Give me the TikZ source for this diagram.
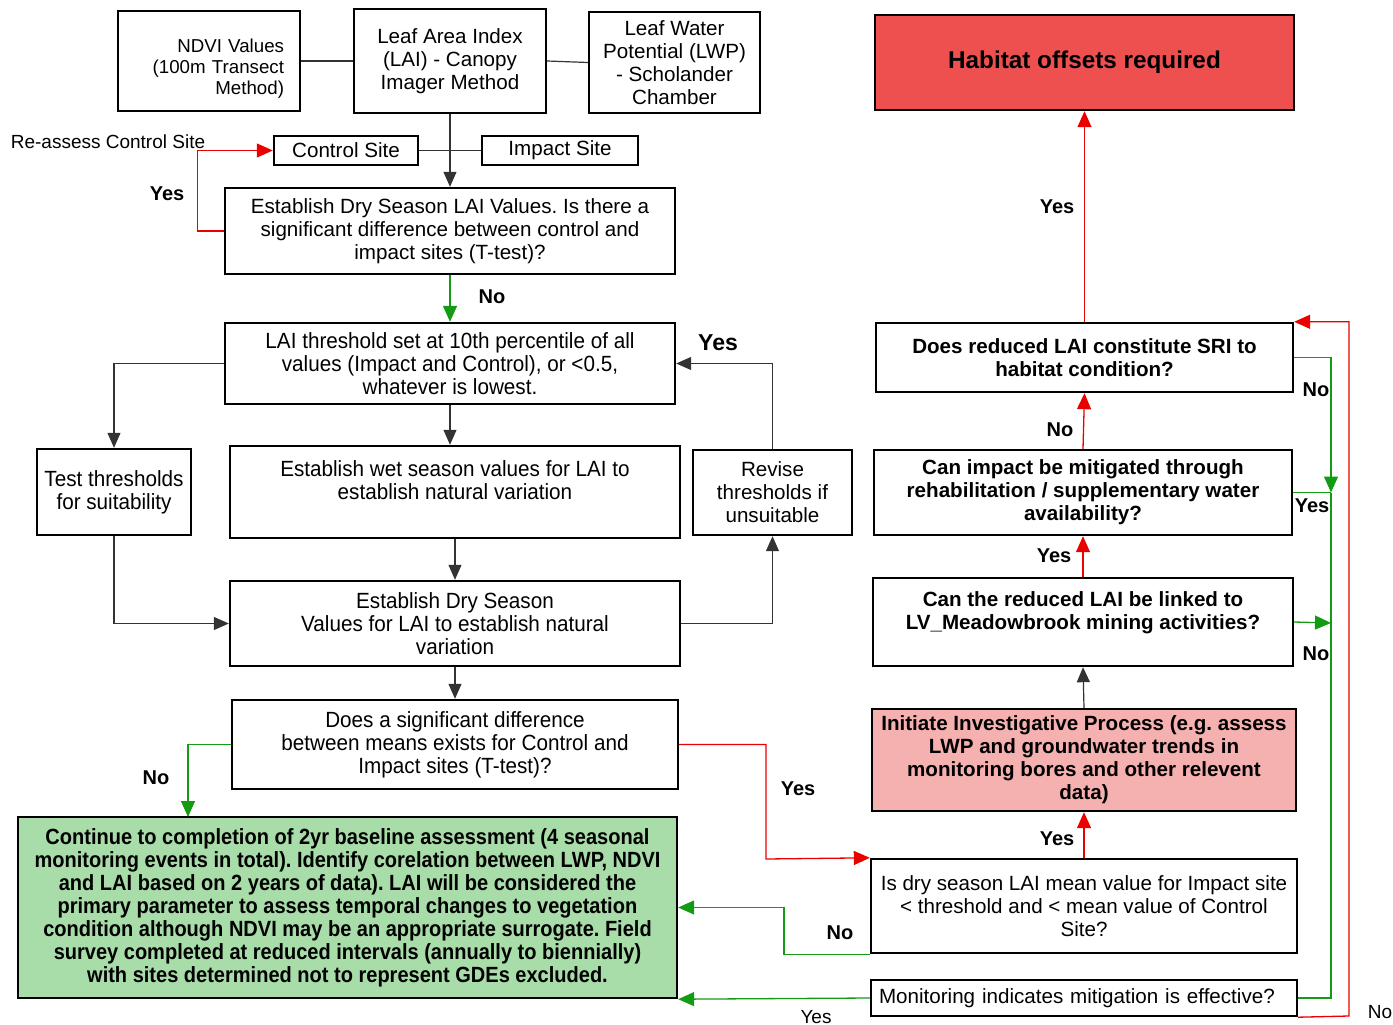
\documentclass[tikz,border=0pt]{standalone}
\usepackage{fontspec}
\setmainfont{Liberation Sans}
\newfontfamily\narrowfont[FakeStretch=0.94]{Liberation Sans}
\newfontfamily\narrowerfont[FakeStretch=0.91]{Liberation Sans}
\usetikzlibrary{arrows.meta}
\frenchspacing
\definecolor{lnred}{RGB}{235,0,0}
\definecolor{lngreen}{RGB}{20,155,20}
\definecolor{habred}{RGB}{238,80,80}
\definecolor{pinkfill}{RGB}{245,176,176}
\definecolor{greenfill}{RGB}{168,220,168}
\newcommand\fsreg{\fontsize{20.6}{23}\selectfont}
\newcommand\fsnar{\fontsize{22}{23}\selectfont\narrowfont}
\newcommand\fslab{\fontsize{20}{23}\selectfont}
\tikzset{
  box/.style={draw=black, line width=2.4pt, inner sep=3pt, align=center, font=\fsreg},
  nbox/.style={box, font=\fsnar},
  bbox/.style={box, font=\fsreg\bfseries},
  conn/.style={line width=1.2pt, draw=black!80},
  arr/.style={-{Triangle[length=15pt,width=13pt]}},
  rconn/.style={line width=1.3pt, draw=lnred},
  rarr/.style={rconn, -{Triangle[length=16pt,width=14pt]}, color=lnred},
  gconn/.style={line width=1.3pt, draw=lngreen},
  garr/.style={gconn, -{Triangle[length=16pt,width=14pt]}, color=lngreen},
  lbl/.style={font=\fslab\bfseries, inner sep=0pt},
  lblr/.style={font=\fontsize{19}{23}\selectfont, inner sep=0pt},
}
\begin{document}
\begin{tikzpicture}[x=1pt,y=-1pt]
\useasboundingbox (0,0) rectangle (1393,1025);
% top row
\node[box, minimum width=182pt, minimum height=100pt, align=right, text width=150pt, font=\fontsize{18.7}{21}\selectfont] (ndvi) at (209,61) {\mbox{}\\[7pt]NDVI Values\\(100m Transect\\Method)};
\node[box, minimum width=192pt, minimum height=104pt] (lai) at (450,61) {Leaf Area Index\\(LAI) - Canopy\\Imager Method};
\node[box, minimum width=171pt, minimum height=101pt] (lwp) at (674.5,62.5) {Leaf Water\\Potential (LWP)\\- Scholander\\Chamber};
\node[box, fill=habred, minimum width=419pt, minimum height=95pt, font=\fontsize{24.3}{28}\selectfont\bfseries] (hab) at (1084.5,62.5) {Habitat offsets required};
\node[box, minimum width=144pt, minimum height=29pt, inner sep=0pt] (ctrl) at (346,150.5) {Control Site};
\node[box, minimum width=156pt, minimum height=29pt, inner sep=0pt] (imp) at (560,150.5) {Impact Site};
% left column
\node[box, minimum width=450pt, minimum height=86pt] (dry) at (450,231) {Establish Dry Season LAI Values. Is there a\\significant difference between control and\\impact sites (T-test)?};
\node[nbox, minimum width=450pt, minimum height=81pt] (thr) at (450,363.5) {LAI threshold set at 10th percentile of all\\values (Impact and Control), or <0.5,\\whatever is lowest.};
\node[nbox, minimum width=154pt, minimum height=86pt] (tst) at (114,492) {Test thresholds\\for suitability};
\node[nbox, minimum width=450pt, minimum height=92pt] (wet) at (455,492) {Establish wet season values for LAI to\\establish natural variation\\\mbox{}};
\node[box, minimum width=159pt, minimum height=85pt] (rev) at (772.5,492.5) {Revise\\thresholds if\\unsuitable};
\node[nbox, minimum width=450pt, minimum height=85pt] (dval) at (455,623.5) {Establish Dry Season\\Values for LAI to establish natural\\variation};
\node[nbox, minimum width=446pt, minimum height=89pt] (sig) at (455,744.5) {Does a significant difference\\between means exists for Control and\\Impact sites (T-test)?};
\node[nbox, fill=greenfill, minimum width=659pt, minimum height=181pt, font=\fontsize{22}{23}\selectfont\narrowerfont\bfseries] (cont) at (347.5,907.5) {Continue to completion of 2yr baseline assessment (4 seasonal\\monitoring events in total). Identify corelation between LWP, NDVI\\and LAI based on 2 years of data). LAI will be considered the\\primary parameter to assess temporal changes to vegetation\\condition although NDVI may be an appropriate surrogate. Field\\survey completed at reduced intervals (annually to biennially)\\with sites determined not to represent GDEs excluded.};
% right column
\node[bbox, minimum width=417pt, minimum height=69pt] (sri) at (1084.5,357.5) {Does reduced LAI constitute SRI to\\habitat condition?};
\node[bbox, minimum width=418pt, minimum height=85pt] (mit) at (1083,492.5) {Can impact be mitigated through\\rehabilitation / supplementary water\\availability?};
\node[bbox, minimum width=420pt, minimum height=88pt] (lnk) at (1083,622) {Can the reduced LAI be linked to\\LV\_Meadowbrook mining activities?\\\mbox{}};
\node[bbox, fill=pinkfill, minimum width=424pt, minimum height=102pt, inner sep=1pt] (init) at (1084,760) {Initiate Investigative Process (e.g. assess\\LWP and groundwater trends in\\monitoring bores and other relevent\\data)};
\node[box, minimum width=426pt, minimum height=94pt, inner sep=1pt] (isdry) at (1084,906) {Is dry season LAI mean value for Impact site\\< threshold and < mean value of Control\\Site?};
\node[box, minimum width=426pt, minimum height=36pt, inner sep=0pt, align=left, text width=410pt] (mon) at (1084,998) {Monitoring indicates mitigation is effective?};
% bend coordinates
\coordinate (bgno) at (188,817);
\coordinate (bsy) at (766,859);
\coordinate (bdn) at (784,907.5);
\coordinate (gy1) at (1331,492.5);
\coordinate (gy2) at (1331,623);
\coordinate (rno) at (1349,1016);
% black connectors
\draw[conn] (ndvi) -- (lai);
\draw[conn] (lai.east) -- (lwp.west);
\draw[conn] (ctrl) -- (imp);
\draw[conn, arr] (lai.south) -- (dry.north);
\draw[conn, arr] (thr.west) -| (tst.north);
\draw[conn, arr] (thr.south) -- (thr.south |- wet.north);
\draw[conn, arr] (wet.south) -- (dval.north);
\draw[conn, arr] (tst.south) |- (dval.west);
\draw[conn, arr] (dval.east) -| (rev.south);
\draw[conn, arr] (rev.north) |- (thr.east);
\draw[conn, arr] (dval.south) -- (sig.north);
\draw[conn, arr] (init.north) -- (lnk.south);
% red connectors
\draw[rarr] (dry.west) -- ++(-26,0) |- (ctrl.west);
\draw[rarr] (sig.east) -| (bsy) -- (isdry.north west);
\draw[rarr] (isdry.north) -- (init.south);
\draw[rarr] (lnk.north) -- (mit.south);
\draw[rarr] (mit.north) -- (sri.south);
\draw[rarr] (sri.north) -- (hab.south);
\draw[rarr] (mon.south east) -- (rno) |- (sri.north east);
% green connectors
\draw[garr] (dry.south) -- (thr.north);
\draw[garr] (sig.west) -| (bgno);
\draw[garr] (isdry.south west) -| (bdn) -- (cont.east);
\draw[garr] (mon.west) -- (cont.south east);
\draw[garr] (sri.east) -| (gy1);
\draw[gconn] (mit.east) -- (gy1);
\draw[gconn] (gy1) |- (mon.east);
\draw[garr] (lnk.east) -- (gy2);
% labels
\node[lblr] (lreass) at (108,142) {Re-assess Control Site};
\node[lbl] (l1) at (167,194) {Yes};
\node[lbl] (l2) at (492,297) {No};
\node[lbl, font=\fontsize{23}{26}\selectfont\bfseries] (l3) at (718,343) {Yes};
\node[lbl] (l4) at (156,778) {No};
\node[lbl] (l5) at (798,789) {Yes};
\node[lbl] (l6) at (840,933) {No};
\node[lblr] (l7) at (816,1017) {Yes};
\node[lbl] (l8) at (1057,839) {Yes};
\node[lbl] (l9) at (1054,556) {Yes};
\node[lbl] (l10) at (1060,430) {No};
\node[lbl] (l11) at (1057,207) {Yes};
\node[lbl] (l12) at (1316,390) {No};
\node[lbl] (l13) at (1312,506) {Yes};
\node[lbl] (l14) at (1316,654) {No};
\node[lblr] (l15) at (1380,1012) {No};
\end{tikzpicture}
\end{document}
